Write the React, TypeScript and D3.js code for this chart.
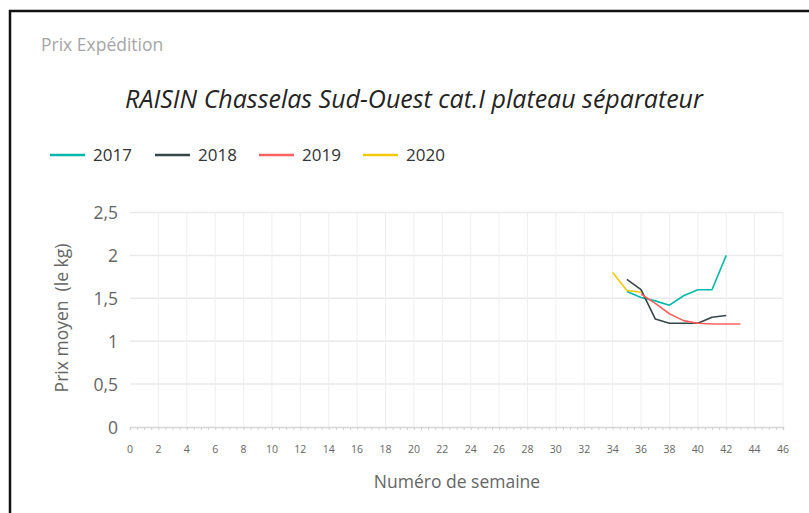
import React, { useEffect, useRef } from 'react';
import * as d3 from 'd3';

// weeks and average prices per year
const years = ['2017', '2018', '2019', '2020'];
const colors = ['#01B8AA', '#374649', '#FD625E', '#F2C80F'];
const weeks2017 = [35, 36, 37, 38, 39, 40, 41, 42];
const prices2017 = [1.58, 1.51, 1.47, 1.42, 1.53, 1.6, 1.6, 2.0];
const weeks2018 = [35, 36, 37, 38, 39, 40, 41, 42];
const prices2018 = [1.72, 1.6, 1.26, 1.21, 1.21, 1.21, 1.28, 1.3];
const weeks2019 = [36, 37, 38, 39, 40, 41, 42, 43];
const prices2019 = [1.55, 1.44, 1.32, 1.24, 1.21, 1.2, 1.2, 1.2];
const weeks2020 = [34, 35, 36];
const prices2020 = [1.8, 1.59, 1.57];
const yTicks = [0, 0.5, 1, 1.5, 2, 2.5];
const xTicks = d3.range(0, 47, 2);

const FONT = "'Open Sans', 'Noto Sans', sans-serif";

const App = () => {
    const svgRef = useRef<SVGSVGElement>(null);

    useEffect(() => {
        const svg = d3.select(svgRef.current);
        svg.selectAll('*').remove();

        const x = d3.scaleLinear().domain([0, 46]).range([130, 783]);
        const y = d3.scaleLinear().domain([0, 2.5]).range([427, 212.5]);

        // card border
        svg.append('rect').attr('x', 10).attr('y', 11).attr('width', 820).attr('height', 520)
            .attr('fill', '#fff').attr('stroke', '#111').attr('stroke-width', 2.5);

        svg.append('text').attr('x', 41).attr('y', 51)
            .style('font-family', FONT).style('font-size', '17.5px').attr('fill', '#a6a6a6')
            .text('Prix Expédition');

        svg.append('text').attr('x', 414).attr('y', 108).attr('text-anchor', 'middle')
            .style('font-family', FONT).style('font-size', '25px').style('font-style', 'italic')
            .attr('fill', '#252423')
            .text('RAISIN Chasselas Sud-Ouest cat.I plateau séparateur');

        // legend
        const legendX = [50, 155, 259, 363];
        years.forEach((yr, i) => {
            svg.append('line').attr('x1', legendX[i]).attr('x2', legendX[i] + 35)
                .attr('y1', 155).attr('y2', 155).attr('stroke', colors[i]).attr('stroke-width', 2.5);
            svg.append('text').attr('x', legendX[i] + 43).attr('y', 161)
                .style('font-family', FONT).style('font-size', '17px').attr('fill', '#333')
                .text(yr);
        });

        // grid
        const grid = svg.append('g');
        grid.selectAll('.hg').data(yTicks.slice(1)).enter().append('line')
            .attr('x1', x(0)).attr('x2', x(46)).attr('y1', d => y(d)).attr('y2', d => y(d))
            .attr('stroke', '#e9e9e9').attr('stroke-width', 1.5);
        grid.selectAll('.vg').data(xTicks.slice(1)).enter().append('line')
            .attr('x1', d => x(d)).attr('x2', d => x(d)).attr('y1', y(2.5)).attr('y2', y(0))
            .attr('stroke', '#efefef').attr('stroke-width', 1);

        // x axis with minor ticks
        const xAxis = svg.append('g').attr('transform', `translate(0,${y(0)})`)
            .call(d3.axisBottom(x).tickValues(d3.range(0, 46.01, 0.5)).tickSize(3).tickFormat(() => ''));
        xAxis.select('.domain').attr('stroke', '#d6d6d6').attr('stroke-width', 1.5);
        xAxis.selectAll('.tick line').attr('stroke', '#d0d0d0');

        svg.append('g').selectAll('text').data(xTicks).enter().append('text')
            .attr('x', d => x(d)).attr('y', 453).attr('text-anchor', 'middle')
            .style('font-family', FONT).style('font-size', '10.5px').attr('fill', '#666')
            .text(d => d);

        svg.append('g').selectAll('text').data(yTicks).enter().append('text')
            .attr('x', 118).attr('y', d => y(d) + 6.5).attr('text-anchor', 'end')
            .style('font-family', FONT).style('font-size', '17.5px').attr('fill', '#666')
            .text(d => String(d).replace('.', ','));

        svg.append('text').attr('x', 457).attr('y', 488).attr('text-anchor', 'middle')
            .style('font-family', FONT).style('font-size', '17.5px').attr('fill', '#666')
            .text('Numéro de semaine');

        svg.append('text').attr('transform', 'translate(68,318) rotate(-90)').attr('text-anchor', 'middle')
            .style('font-family', FONT).style('font-size', '17.5px').style('white-space', 'pre')
            .attr('fill', '#666')
            .text('Prix moyen  (le kg)');

        // series
        const series = [
            [weeks2017, prices2017],
            [weeks2018, prices2018],
            [weeks2019, prices2019],
            [weeks2020, prices2020],
        ];
        const line = d3.line<[number, number]>().x(d => x(d[0])).y(d => y(d[1]));
        series.forEach(([w, p], i) => {
            svg.append('path')
                .datum(w.map((wk, j) => [wk, p[j]] as [number, number]))
                .attr('d', line).attr('fill', 'none')
                .attr('stroke', colors[i]).attr('stroke-width', 1.6)
                .attr('stroke-linejoin', 'round');
        });
    }, []);

    return (
        <svg ref={svgRef} width={809} height={513}
            style={{ position: 'absolute', left: 0, top: 0, display: 'block' }} />
    );
};

export default App;
